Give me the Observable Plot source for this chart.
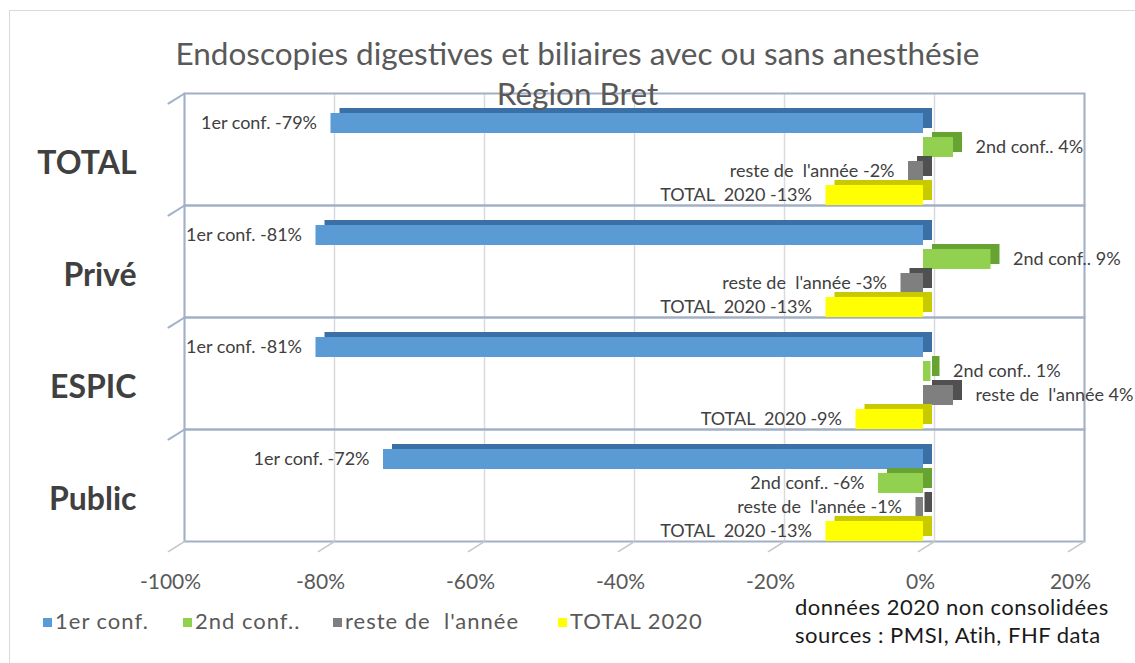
<!DOCTYPE html>
<html>
<head>
<meta charset="utf-8">
<script src="https://cdn.jsdelivr.net/npm/d3@7"></script>
<script src="https://cdn.jsdelivr.net/npm/@observablehq/plot@0.6"></script>
<style>
  body { margin: 0; background: #fff; }
  #wrap { position: relative; width: 1135px; height: 663px; overflow: hidden; background: #fff; font-family: Lato, "Open Sans", sans-serif; }
  #border { position: absolute; left: 9px; top: 10px; width: 1140px; height: 670px; border: 1.5px solid #d9d9d9; box-sizing: border-box; }
  #chart { position: absolute; left: 0; top: 0; }
  .t { position: absolute; white-space: pre; line-height: 1; }
  .sw { position: absolute; width: 9px; height: 9px; }
</style>
</head>
<body>
<div id="wrap">
  <div id="border"></div>
  <div id="chart"></div>
  <div class="t" id="title1" style="left:0;width:1155px;text-align:center;top:38px;font-size:31.5px;color:#595959;">Endoscopies digestives et biliaires avec ou sans anesthésie</div>
  <div class="t" id="title2" style="left:0;width:1155px;text-align:center;top:78px;font-size:31.5px;color:#595959;">Région Bret</div>
  <div id="legend"></div>
  <div class="t" style="left:795px;top:596px;font-size:22px;letter-spacing:0.5px;color:#1a1a1a;">données 2020 non consolidées</div>
  <div class="t" style="left:795px;top:624px;font-size:22px;letter-spacing:0.5px;color:#1a1a1a;">sources : PMSI, Atih, FHF data</div>
</div>
<script>
// ---- data ----
const groups = ["TOTAL", "Privé", "ESPIC", "Public"];
const series = ["1er conf.", "2nd conf..", "reste de\u00a0 l'année", "TOTAL\u00a0 2020"];
const legendLabels = ["1er conf.", "2nd conf..", "reste de\u00a0 l'année", "TOTAL 2020"];
const valuesTOTAL  = [-79, 4, -2, -13];
const valuesPrive  = [-81, 9, -3, -13];
const valuesESPIC  = [-81, 1, 4, -9];
const valuesPublic = [-72, -6, -1, -13];
const xTicks = [-100, -80, -60, -40, -20, 0, 20];
const colors = ["#5b9bd5", "#92d050", "#7f7f7f", "#ffff00"];
const depthColors = ["#3b70a6", "#66a332", "#505050", "#c9c900"];

const valueRows = [valuesTOTAL, valuesPrive, valuesESPIC, valuesPublic];
const data = [];
groups.forEach((g, gi) => series.forEach((s, si) => data.push({group: g, series: s, si, value: valueRows[gi][si]})));

const edge = {draw(context, l) { context.moveTo(0, 0); context.lineTo(0, -l); }};
const diag = () => 238;

const barMarks = [];
series.forEach((s, si) => {
  const sub = data.filter(d => d.si === si);
  barMarks.push(Plot.barX(sub, {x: "value", y: "series", fy: "group", fill: depthColors[si], insetTop: 4, insetBottom: 0, dx: 9, dy: -5}));
  barMarks.push(Plot.barX(sub, {x: "value", y: "series", fy: "group", fill: colors[si], insetTop: 4, insetBottom: 0}));
});

const chart = Plot.plot({
  width: 1135,
  height: 663,
  marginLeft: 173,
  marginRight: 62,
  marginTop: 93,
  marginBottom: 122,
  style: {fontFamily: "Lato, 'Open Sans', sans-serif", background: "transparent"},
  x: {domain: [-100, 20]},
  y: {domain: series, paddingInner: 0, paddingOuter: 0.2857, align: 1, axis: null},
  fy: {domain: groups, padding: 0},
  marks: [
    Plot.ruleX(xTicks, {x: d => d, dx: 11, stroke: "#d9dbe0", strokeWidth: 1.5}),
    Plot.frame({stroke: "#a2b0c6", strokeWidth: 2, dx: 11}),
    Plot.vector([0], {frameAnchor: "top-left", dx: 11, length: 19, rotate: diag, anchor: "start", shape: edge, stroke: "#a2b0c6", strokeWidth: 2}),
    Plot.vector(xTicks, {x: d => d, fy: () => "Public", frameAnchor: "bottom", dx: 11, length: 19, rotate: diag, anchor: "start", shape: edge, stroke: "#c8c8c8", strokeWidth: 1.5}),
    ...barMarks,
    Plot.text(data.filter(d => d.value < 0), {x: "value", y: "series", fy: "group", text: d => `${d.series} ${d.value}%`, textAnchor: "end", dx: -14, dy: 2, fontSize: 18, fill: "#404040"}),
    Plot.text(data.filter(d => d.value >= 0), {x: "value", y: "series", fy: "group", text: d => `${d.series} ${d.value}%`, textAnchor: "start", dx: 22, dy: 2, fontSize: 18, fill: "#404040"}),
    Plot.axisX({ticks: xTicks, tickFormat: d => `${d}%`, tickSize: 0, tickPadding: 33, fontSize: 21, fill: "#595959", label: null, dx: -3}),
    Plot.axisFy({anchor: "left", tickSize: 0, tickPadding: 37, fontSize: 32, fontWeight: "bold", fill: "#404040", label: null, dy: 14})
  ]
});
document.getElementById("chart").appendChild(chart);

// legend
const legendX = [43, 183, 333, 558];
const leg = document.getElementById("legend");
legendLabels.forEach((lab, i) => {
  const sw = document.createElement("div");
  sw.className = "sw";
  sw.style.left = legendX[i] + "px";
  sw.style.top = "618px";
  sw.style.background = colors[i];
  leg.appendChild(sw);
  const t = document.createElement("div");
  t.className = "t";
  t.style.left = (legendX[i] + 12) + "px";
  t.style.top = "610px";
  t.style.fontSize = "22px";
  t.style.letterSpacing = "1px";
  t.style.color = "#595959";
  t.textContent = lab;
  leg.appendChild(t);
});
</script>
</body>
</html>
